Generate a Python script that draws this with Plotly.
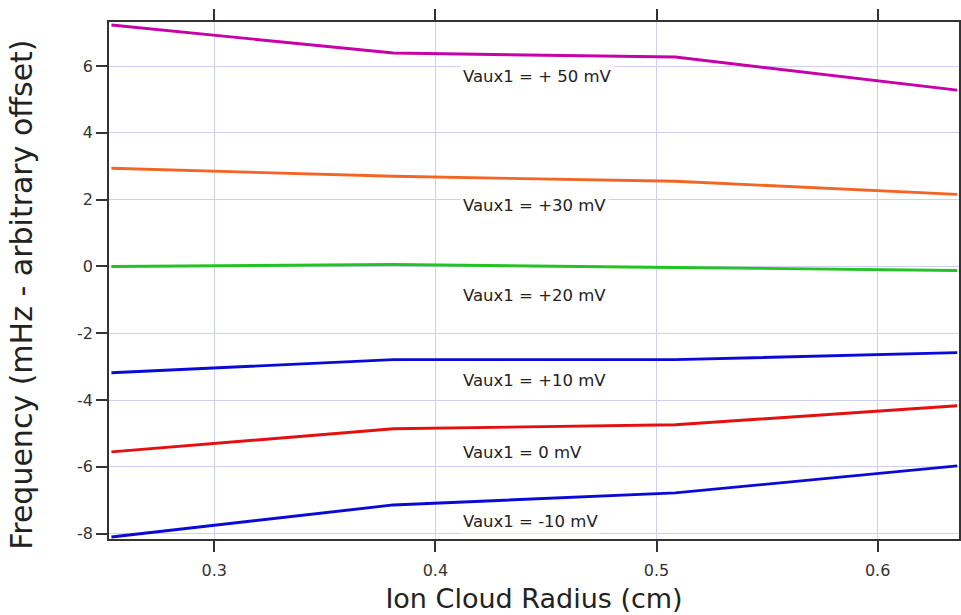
import plotly.graph_objects as go

# Ion cloud radius sample points (cm)
radius = [0.2535, 0.381, 0.5085, 0.636]

# Frequency shift per auxiliary voltage (mHz, arbitrary offset)
freq_p50 = [7.23, 6.39, 6.27, 5.28]
freq_p30 = [2.94, 2.70, 2.55, 2.16]
freq_p20 = [0.00, 0.06, -0.03, -0.12]
freq_p10 = [-3.18, -2.79, -2.79, -2.58]
freq_0 = [-5.55, -4.86, -4.74, -4.17]
freq_m10 = [-8.10, -7.14, -6.78, -5.97]

series_labels = ["Vaux1 = + 50 mV", "Vaux1 = +30 mV", "Vaux1 = +20 mV",
                 "Vaux1 = +10 mV", "Vaux1 = 0 mV", "Vaux1 = -10 mV"]
label_x = [0.411, 0.411, 0.411, 0.411, 0.411, 0.411]
label_y = [5.70, 1.83, -0.87, -3.42, -5.58, -7.65]

x_tick_vals = [0.3, 0.4, 0.5, 0.6]
x_tick_text = ["0.3", "0.4", "0.5", "0.6"]
y_tick_vals = [-8, -6, -4, -2, 0, 2, 4, 6]
y_tick_text = ["-8", "-6", "-4", "-2", "0", "2", "4", "6"]

all_series = [freq_p50, freq_p30, freq_p20, freq_p10, freq_0, freq_m10]
colors = ["#c800a8", "#f26522", "#22c322", "#0a0ad8", "#e60f0f", "#0a0ad8"]

FONT = "DejaVu Sans"
AXIS_COLOR = "#333333"
GRID_COLOR = "#cfcff2"

fig = go.Figure()
for ys, col, name in zip(all_series, colors, series_labels):
    fig.add_trace(go.Scatter(x=radius, y=ys, mode="lines", name=name,
                             line=dict(color=col, width=2.9),
                             showlegend=False))

for txt, lx, ly in zip(series_labels, label_x, label_y):
    fig.add_annotation(x=lx, y=ly, text=txt, showarrow=False,
                       xanchor="left", yanchor="middle",
                       bgcolor="white", borderpad=2,
                       font=dict(family=FONT, size=16.5, color="#222222"))

# Vertical axis title, placed left of the tick labels
fig.add_annotation(xref="paper", yref="paper", x=-0.1025, y=0.472,
                   text="Frequency (mHz - arbitrary offset)", textangle=-90,
                   showarrow=False, xanchor="center", yanchor="middle",
                   font=dict(family=FONT, size=30, color="#222222"))

axis_common = dict(showline=True, linecolor=AXIS_COLOR, linewidth=1.5,
                   mirror="ticks", ticks="outside", ticklen=11,
                   tickwidth=1.5, tickcolor=AXIS_COLOR,
                   showgrid=True, gridcolor=GRID_COLOR, gridwidth=1,
                   zeroline=False, automargin=False,
                   tickfont=dict(family=FONT, size=16, color="#333333"))

fig.update_xaxes(range=[0.2524, 0.6368], tickmode="array",
                 tickvals=x_tick_vals, ticktext=x_tick_text,
                 ticklabelstandoff=5,
                 title=dict(text="Ion Cloud Radius (cm)", standoff=10,
                            font=dict(family=FONT, size=27, color="#222222")),
                 **axis_common)
fig.update_yaxes(range=[-8.16, 7.32], tickmode="array",
                 tickvals=y_tick_vals, ticktext=y_tick_text,
                 **axis_common)

fig.update_layout(width=961, height=615,
                  margin=dict(l=109, r=2, t=22, b=76),
                  plot_bgcolor="white", paper_bgcolor="white")

fig.write_html("out.html")
